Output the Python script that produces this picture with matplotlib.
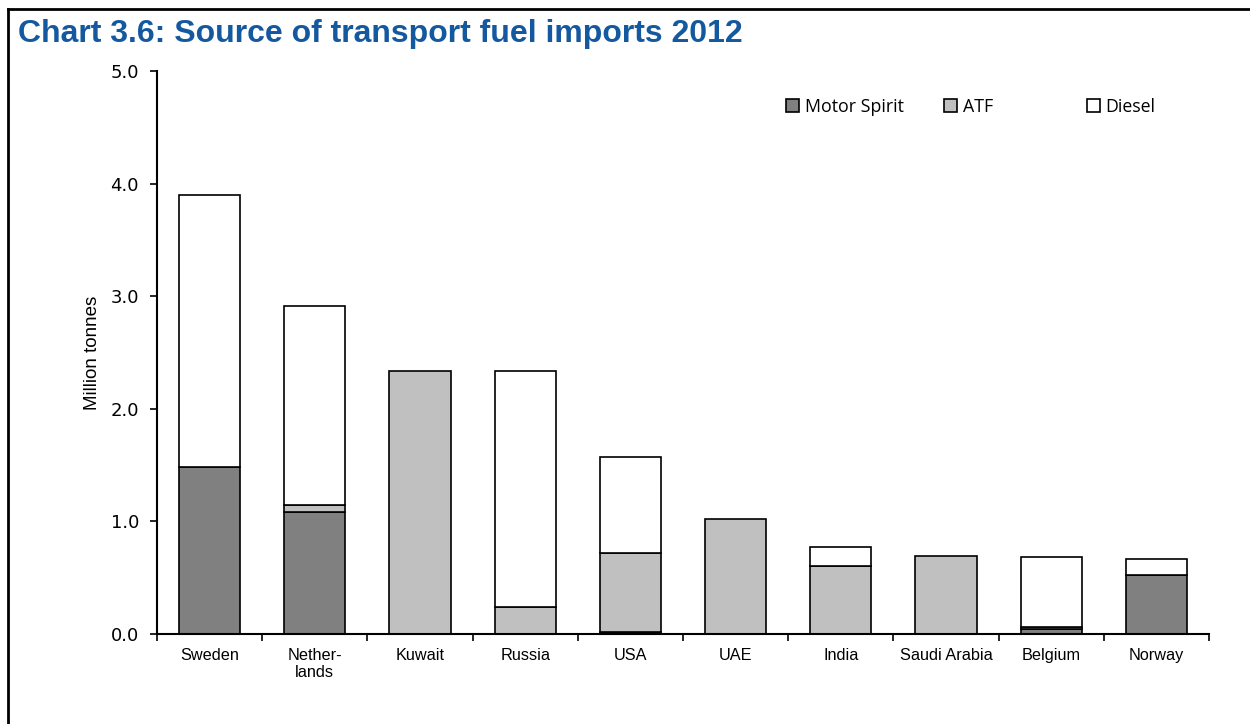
import matplotlib
matplotlib.use("Agg")
import matplotlib.pyplot as plt
from matplotlib.lines import Line2D
from matplotlib.transforms import blended_transform_factory, ScaledTranslation
import numpy as np

countries = ["Sweden", "Nether-\nlands", "Kuwait", "Russia", "USA", "UAE", "India",
             "Saudi Arabia", "Belgium", "Norway"]
motor_spirit = [1.48, 1.08, 0.00, 0.00, 0.02, 0.00, 0.00, 0.00, 0.04, 0.52]
atf = [0.00, 0.07, 2.34, 0.24, 0.70, 1.02, 0.60, 0.69, 0.025, 0.00]
diesel = [2.42, 1.76, 0.00, 2.10, 0.85, 0.00, 0.17, 0.00, 0.615, 0.15]
series_names = ["Motor Spirit", "ATF", "Diesel"]
yticks = [0.0, 1.0, 2.0, 3.0, 4.0, 5.0]

fig = plt.figure(figsize=(12.5, 7.24), dpi=100)
ax = fig.add_axes([157/1250, 90/724, (1209-157)/1250, (634-71)/724])

x = np.arange(len(countries))
w = 0.58
ms = np.array(motor_spirit)
at = np.array(atf)
ds = np.array(diesel)
b1 = ax.bar(x, ms, w, color="#808080", edgecolor="black", linewidth=1.2)
b2 = ax.bar(x, at, w, bottom=ms, color="#C0C0C0", edgecolor="black", linewidth=1.2)
b3 = ax.bar(x, ds, w, bottom=ms + at, color="white", edgecolor="black", linewidth=1.2)
handles = []
for cont, vals in ((b1, ms), (b2, at), (b3, ds)):
    first = None
    for p, v in zip(cont, vals):
        if v == 0:
            p.set_visible(False)
        elif first is None:
            first = p
    handles.append(first)

ax.set_xlim(-0.5, len(countries) - 0.5)
ax.set_ylim(0, 5)
ax.set_yticks(yticks)
ax.set_yticklabels([f"{v:.1f}" for v in yticks], fontsize=13, family="DejaVu Sans")
ax.set_xticks(np.arange(-0.5, len(countries)))
ax.set_xticklabels([])
ax.tick_params(axis="x", length=5, width=1.2, direction="out")
ax.tick_params(axis="y", length=5, width=1.2, direction="out", pad=8)
for s in ("top", "right"):
    ax.spines[s].set_visible(False)
for s in ("left", "bottom"):
    ax.spines[s].set_linewidth(1.5)

# category labels, first-line baseline aligned
base = blended_transform_factory(ax.transData, ax.transAxes)
line_gap = 17  # px between lines
for xi, name in zip(x, countries):
    nlines = name.count("\n") + 1
    off = -(26 + line_gap * (nlines - 1)) / 100.0
    tr = base + ScaledTranslation(0, off, fig.dpi_scale_trans)
    ax.text(xi, 0, name, transform=tr, ha="center", va="baseline", fontsize=11.7,
            family="Liberation Sans", linespacing=1.15, multialignment="center")

ax.set_ylabel("Million tonnes", fontsize=13.5, family="Liberation Sans", labelpad=7)

positions = [786, 944, 1087]
for h, name, px in zip(handles, series_names, positions):
    fig.legend([h], [name], loc="center left", bbox_to_anchor=(px/1250, 1 - 107/724),
               frameon=False, handlelength=0.75, handleheight=0.75, handletextpad=0.3,
               borderpad=0, borderaxespad=0,
               prop={"family": "Open Sans", "size": 12.8})

fig.text(18/1250, 1 - 34/724, "Chart 3.6: Source of transport fuel imports 2012",
         fontsize=23, fontweight="bold", family="Liberation Sans", color="#14599F",
         va="center", ha="left")

fig.add_artist(Line2D([8/1250, 8/1250], [0, 1 - 9/724], transform=fig.transFigure,
                      color="black", linewidth=2))
fig.add_artist(Line2D([8/1250, 1], [1 - 9/724, 1 - 9/724], transform=fig.transFigure,
                      color="black", linewidth=2))

fig.savefig("out.png", dpi=100)
